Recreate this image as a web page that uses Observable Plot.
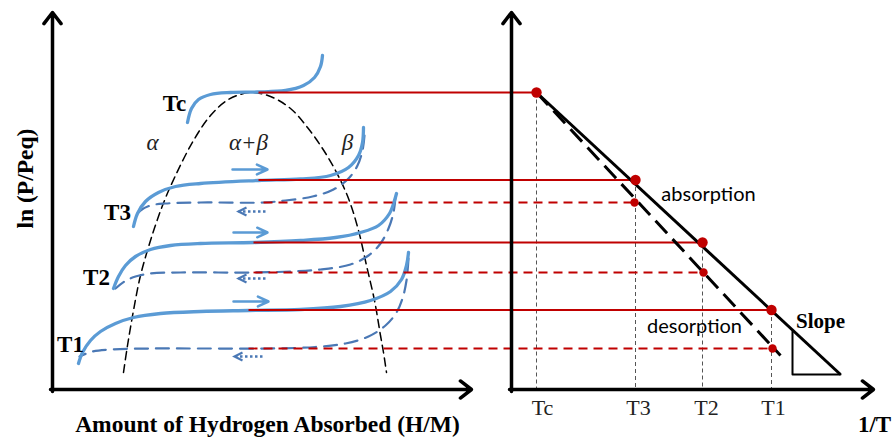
<!DOCTYPE html>
<html><head><meta charset="utf-8">
<script src="https://cdn.jsdelivr.net/npm/d3@7"></script>
<script src="https://cdn.jsdelivr.net/npm/@observablehq/plot@0.6"></script>
<style>html,body{margin:0;padding:0;background:#fff;overflow:hidden}</style>
</head><body><div id="chart"></div>
<script>
// ---- Data (diagram units; y grows downward) ----
const temps = ["Tc", "T3", "T2", "T1"];
// PCT absorption isotherms (solid)
const tcAbs = [[187,122],[191,108],[198,99],[210,94],[230,92],[257,91.5],[285,90],[303,85],[314,77],[320,66],[322,55]];
const t3Abs = [[133,226],[137,213],[145,201],[158,192],[175,186],[200,183],[258,180],[300,178.5],[330,175],[348,167],[358,155],[362,142],[363,127]];
const t2Abs = [[113,288],[118,276],[125,265],[135,256],[150,249],[170,245],[200,243],[253,242],[300,240],[335,237],[360,232],[378,225],[389,213],[394,200],[396,193]];
const t1Abs = [[78,363],[82,352],[90,340],[100,331],[115,323],[133,317],[160,313],[200,311],[248,310],[300,309],[340,306],[370,300],[390,291],[401,279],[406,265],[408,252]];
// PCT desorption isotherms (dashed)
const t3Des = [[364,135],[362,150],[357,165],[348,178],[333,189],[312,196],[285,200],[263,202],[200,202],[165,203],[150,205],[140,210],[134,216]];
const t2Des = [[395,197],[393,212],[388,228],[380,243],[368,255],[350,264],[320,269],[290,271],[253,272],[180,272],[150,273],[135,276],[124,281],[115,288]];
const t1Des = [[408,258],[406,280],[402,298],[396,312],[385,325],[368,336],[345,343],[315,346.5],[270,348],[200,348],[150,348],[110,349],[92,351],[79,356]];
// two-phase dome
const dome = [[123,372],[127,345],[133,310],[140,275],[150,240],[162,205],[175,175],[193,140],[210,115],[228,99],[250,92],[270,96],[290,108],[307,127],[322,148],[335,170],[348,198],[358,230],[366,265],[374,300],[380,335],[383,352],[386,372]];
// plateau levels and van't Hoff points
const absY = [92, 179.5, 242, 309.5];
const absX = [536, 635, 702, 771];
const absStart = [258, 258, 253, 248];
const desTemps = ["T3", "T2", "T1"];
const desY = [202, 272, 348];
const desX = [634, 703, 772];
const desStart = [263, 253, 248];
const baseY = 389;
const absEnd = [840, 374];
const desEnd = [780, 355];
const slopeTri = [[792,331],[792,374],[840,374]];
// axes
const axes = [
  {x1: 52, y1: 391, x2: 52, y2: 12},
  {x1: 50, y1: 389, x2: 471, y2: 389},
  {x1: 511, y1: 391, x2: 511, y2: 12},
  {x1: 509, y1: 389, x2: 873, y2: 389}
];
// direction arrows
const absArrowY = [169, 232, 301], absArrowX1 = [232, 233, 233], absArrowX2 = [267, 267, 268];
const desArrowY = [211, 278, 356], desArrowX1 = [265, 265, 262], desArrowX2 = [238, 238, 234];
// labels
const leftLabelX = [174, 117, 96, 70], leftLabelY = [103, 212, 277, 344];
const phases = ["α", "α+β", "β"], phaseX = [152, 248, 347], phaseY = [142, 142, 142];
const tickX = [542, 638, 706, 773], tickY = 407;

// ---- build tables ----
const fx = d => d[0], fy = d => d[1];
const absCurves = [["Tc", tcAbs], ["T3", t3Abs], ["T2", t2Abs], ["T1", t1Abs]].flatMap(([t, pts]) => pts.map(p => ({t, x: p[0], y: p[1]})));
const desCurves = [["T3", t3Des], ["T2", t2Des], ["T1", t1Des]].flatMap(([t, pts]) => pts.map(p => ({t, x: p[0], y: p[1]})));
const absRows = temps.map((t, i) => ({t, y: absY[i], x: absX[i], x0: absStart[i]}));
const desRows = desTemps.map((t, i) => ({t, y: desY[i], x: desX[i], x0: desStart[i]}));
const absArrows = absArrowY.map((y, i) => ({y, x1: absArrowX1[i], x2: absArrowX2[i]}));
const desArrows = desArrowY.map((y, i) => ({y, x1: desArrowX1[i], x2: desArrowX2[i]}));
const leftLabels = temps.map((t, i) => ({t, x: leftLabelX[i], y: leftLabelY[i]}));
const phaseLabels = phases.map((t, i) => ({t, x: phaseX[i], y: phaseY[i]}));
const ticks = temps.map((t, i) => ({t, x: tickX[i]}));
const lines = [
  {x1: absX[0], y1: absY[0], x2: absEnd[0], y2: absEnd[1], dash: null},
];
const chevron = {draw(ctx, size) { const r = Math.sqrt(size / Math.PI); ctx.moveTo(r * 2, -r); ctx.lineTo(0, 0); ctx.lineTo(r * 2, r); }};

const blue = "#5b9bd5", blueD = "#4a78b5", red = "#c00000";
const serif = "Liberation Serif";

const chart = Plot.plot({
  width: 892, height: 437, margin: 0,
  x: {domain: [0, 892], axis: null},
  y: {domain: [437, 0], axis: null},
  style: {background: "white", overflow: "visible"},
  marks: [
    Plot.line(dome, {x: fx, y: fy, curve: "catmull-rom", stroke: "black", strokeWidth: 1.5, strokeDasharray: "8,5"}),
    Plot.line(desCurves, {x: "x", y: "y", z: "t", curve: "catmull-rom", stroke: blueD, strokeWidth: 2.2, strokeDasharray: "13,8"}),
    Plot.line(absCurves, {x: "x", y: "y", z: "t", curve: "catmull-rom", stroke: blue, strokeWidth: 3.3}),
    // gray guides
    Plot.link(absRows, {x1: "x", y1: "y", x2: "x", y2: () => baseY, stroke: "#555", strokeWidth: 1, strokeDasharray: "4,3"}),
    // red tie lines
    Plot.link(absRows, {x1: "x0", y1: "y", x2: "x", y2: "y", stroke: red, strokeWidth: 2}),
    Plot.link(desRows, {x1: "x0", y1: "y", x2: "x", y2: "y", stroke: red, strokeWidth: 1.8, strokeDasharray: "9,6"}),
    // van't Hoff lines
    Plot.link([0], {x1: () => absX[0], y1: () => absY[0], x2: () => absEnd[0], y2: () => absEnd[1], stroke: "black", strokeWidth: 3}),
    Plot.link([0], {x1: () => absX[0], y1: () => absY[0], x2: () => desEnd[0], y2: () => desEnd[1], stroke: "black", strokeWidth: 3, strokeDasharray: "17,8"}),
    Plot.line(slopeTri, {x: fx, y: fy, stroke: "black", strokeWidth: 2}),
    // axes
    Plot.arrow(axes, {x1: "x1", y1: "y1", x2: "x2", y2: "y2", stroke: "black", strokeWidth: 3.5, headLength: 6, headAngle: 75, strokeLinejoin: "miter"}),
    // direction arrows
    Plot.arrow(absArrows, {x1: "x1", y1: "y", x2: "x2", y2: "y", stroke: blue, strokeWidth: 2.5, headLength: 9, headAngle: 50}),
    Plot.link(desArrows, {x1: "x1", y1: "y", x2: "x2", y2: "y", stroke: blueD, strokeWidth: 2.5, strokeDasharray: "2.5,2.5"}),
    Plot.dot(desArrows, {x: "x2", y: "y", symbol: chevron, r: 4, stroke: blueD, strokeWidth: 2.2, fill: "none"}),
    // points
    Plot.dot(absRows, {x: "x", y: "y", r: 5.2, fill: red, stroke: "none"}),
    Plot.dot(desRows, {x: "x", y: "y", r: 4.2, fill: red, stroke: "none"}),
    // texts
    Plot.text(leftLabels, {x: "x", y: "y", text: "t", fontFamily: serif, fontWeight: "bold", fontSize: 23, fill: "black"}),
    Plot.text(phaseLabels, {x: "x", y: "y", text: "t", fontFamily: serif, fontStyle: "italic", fontSize: 23, fill: "#222"}),
    Plot.text(ticks, {x: "x", y: () => tickY, text: "t", fontFamily: serif, fontSize: 22, fill: "#222"}),
    Plot.text(["ln (P/Peq)"], {x: () => 25, y: () => 178, text: d => d, rotate: -90, fontFamily: serif, fontWeight: "bold", fontSize: 23.5, fill: "black"}),
    Plot.text(["Amount of Hydrogen Absorbed (H/M)"], {x: () => 267, y: () => 424, text: d => d, fontFamily: serif, fontWeight: "bold", fontSize: 23.5, fill: "black"}),
    Plot.text(["1/T"], {x: () => 874, y: () => 424, text: d => d, fontFamily: serif, fontWeight: "bold", fontSize: 23, fill: "black"}),
    Plot.text(["Slope"], {x: () => 820, y: () => 321, text: d => d, fontFamily: serif, fontWeight: "bold", fontSize: 21, fill: "black"}),
    Plot.text(["absorption"], {x: () => 708, y: () => 194, text: d => d, fontFamily: "Lato", fontSize: 20, fill: "black"}),
    Plot.text(["desorption"], {x: () => 694, y: () => 326, text: d => d, fontFamily: "Lato", fontSize: 20, fill: "black"})
  ]
});
document.getElementById("chart").appendChild(chart);
</script>
</body></html>
